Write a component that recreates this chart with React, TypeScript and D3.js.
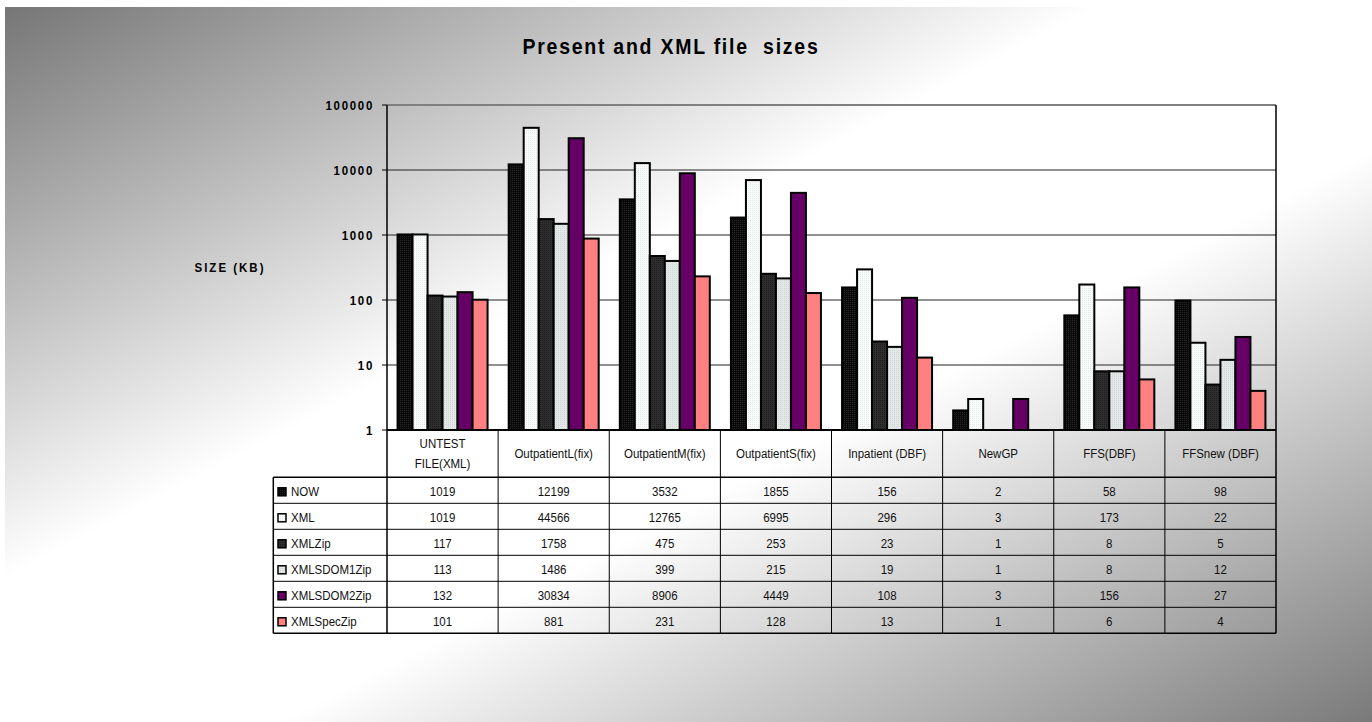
import React from "react";
import * as d3 from "d3";

const categories = ["UNTEST FILE(XML)", "OutpatientL(fix)", "OutpatientM(fix)", "OutpatientS(fix)", "Inpatient (DBF)", "NewGP", "FFS(DBF)", "FFSnew (DBF)"];
const categoryLines = [["UNTEST", "FILE(XML)"], ["OutpatientL(fix)"], ["OutpatientM(fix)"], ["OutpatientS(fix)"], ["Inpatient (DBF)"], ["NewGP"], ["FFS(DBF)"], ["FFSnew (DBF)"]];
const seriesNames = ["NOW", "XML", "XMLZip", "XMLSDOM1Zip", "XMLSDOM2Zip", "XMLSpecZip"];
const NOW = [1019, 12199, 3532, 1855, 156, 2, 58, 98];
const XML = [1019, 44566, 12765, 6995, 296, 3, 173, 22];
const XMLZip = [117, 1758, 475, 253, 23, 1, 8, 5];
const XMLSDOM1Zip = [113, 1486, 399, 215, 19, 1, 8, 12];
const XMLSDOM2Zip = [132, 30834, 8906, 4449, 108, 3, 156, 27];
const XMLSpecZip = [101, 881, 231, 128, 13, 1, 6, 4];
const seriesValues = [NOW, XML, XMLZip, XMLSDOM1Zip, XMLSDOM2Zip, XMLSpecZip];
const yTicks = [1, 10, 100, 1000, 10000, 100000];
const title = "Present and XML file  sizes";
const yTitle = "SIZE (KB)";

const FONT = "'Liberation Sans', Arial, sans-serif";
const SY = 1.15;

function T(props: any) {
  const { x, y, children, ...rest } = props;
  return (
    <text transform={`translate(${x},${y}) scale(1,${SY})`} x={0} y={0} style={{ whiteSpace: "pre" }} {...rest}>{children}</text>
  );
}

export default function App() {
  const W = 1372, H = 722;
  const left = 387, right = 1276, top = 105, bottom = 430;
  const y = d3.scaleLog().domain([1, 100000]).range([bottom, top]);
  const x = d3.scaleBand<string>().domain(categories).range([left, right]).paddingInner(0).paddingOuter(0);
  const groupW = 90;
  const x1 = d3.scaleBand<string>().domain(seriesNames).range([0, groupW]);
  const offset = (x.bandwidth() - groupW) / 2;
  const fills = ["url(#pNow)", "url(#pXml)", "url(#pZip)", "url(#pSdom1)", "#660066", "#ff8080"];

  const headerBottom = 477.3;
  const rowH = 26;
  const tableLeft = 273.3;
  const tableBottom = headerBottom + rowH * seriesNames.length;

  return (
    <svg width={W} height={H} style={{ position: "absolute", left: 0, top: 0, display: "block" }} fontFamily={FONT}>
      <defs>
        <linearGradient id="bg" x1="0" y1="0" x2="1" y2="1">
          <stop offset="0" stopColor="#767676" />
          <stop offset="0.4" stopColor="#ffffff" />
          <stop offset="0.6" stopColor="#ffffff" />
          <stop offset="1" stopColor="#7a7a7a" />
        </linearGradient>
        <pattern id="pNow" width="2" height="2" patternUnits="userSpaceOnUse">
          <rect width="2" height="2" fill="#0a0a0a" />
          <rect width="1" height="1" fill="#262626" />
        </pattern>
        <pattern id="pXml" width="2" height="2" patternUnits="userSpaceOnUse">
          <rect width="2" height="2" fill="#fbfdfd" />
          <rect width="1" height="1" fill="#e2e8e8" />
        </pattern>
        <pattern id="pZip" width="2" height="2" patternUnits="userSpaceOnUse">
          <rect width="2" height="2" fill="#2e2e2e" />
          <rect width="1" height="1" fill="#1c1c1c" />
        </pattern>
        <pattern id="pSdom1" width="2" height="2" patternUnits="userSpaceOnUse">
          <rect width="2" height="2" fill="#e4e8e8" />
          <rect width="1" height="1" fill="#cfd4d4" />
        </pattern>
      </defs>
      <rect x={0} y={0} width={W} height={H} fill="#ffffff" />
      <rect x={5} y={7} width={W - 5} height={H - 7} fill="url(#bg)" />

      {/* title */}
      <T x={671} y={54} textAnchor="middle" fontSize={19.5} fontWeight="bold" letterSpacing={1.75} fill="#000">{title}</T>

      {/* y axis title */}
      <T x={230} y={272} textAnchor="middle" fontSize={11.5} fontWeight="bold" letterSpacing={2} fill="#000">{yTitle}</T>

      {/* gridlines */}
      {yTicks.map((t) => (
        <line key={"g" + t} x1={left} x2={right} y1={y(t)} y2={y(t)} stroke={t === 100000 ? "#808080" : "#222"} strokeWidth={t === 100000 ? 2 : 1} />
      ))}
      {/* ticks and labels */}
      {yTicks.map((t) => (
        <g key={"t" + t}>
          <line x1={left - 5} x2={left} y1={y(t)} y2={y(t)} stroke="#000" strokeWidth={1} />
          <T x={374} y={y(t) + 4.5} textAnchor="end" fontSize={11.5} fontWeight="bold" letterSpacing={1.7} fill="#000">{d3.format("d")(t)}</T>
        </g>
      ))}

      {/* bars */}
      {categories.map((c, ci) => (
        <g key={c}>
          {seriesNames.map((s, si) => {
            const v = seriesValues[si][ci];
            const bx = (x(c) as number) + offset + (x1(s) as number);
            const by = y(v);
            const h = bottom - by;
            if (h <= 0) return null;
            return <rect key={s} x={bx} y={by} width={x1.bandwidth()} height={h} fill={fills[si]} stroke="#000" strokeWidth={2} />;
          })}
        </g>
      ))}

      {/* plot frame */}
      <line x1={right} x2={right} y1={top} y2={tableBottom} stroke="#000" strokeWidth={1.5} />
      <line x1={left} x2={left} y1={top} y2={tableBottom} stroke="#000" strokeWidth={1.5} />
      <line x1={left} x2={right} y1={bottom} y2={bottom} stroke="#000" strokeWidth={2} />

      {/* table: category dividers */}
      {categories.slice(1).map((c) => (
        <line key={"v" + c} x1={x(c) as number} x2={x(c) as number} y1={bottom} y2={tableBottom} stroke="#000" strokeWidth={1} />
      ))}
      {/* header labels */}
      {categoryLines.map((lines, ci) => {
        const cx = (x(categories[ci]) as number) + x.bandwidth() / 2;
        const centerY = 453;
        const lh = 20;
        return (
          <g key={"h" + ci}>
            {lines.map((ln, li) => (
              <T key={li} x={cx} y={centerY + (li - (lines.length - 1) / 2) * lh + 4.5} textAnchor="middle" fontSize={11.5} fill="#111">{ln}</T>
            ))}
          </g>
        );
      })}
      {/* table frame */}
      <line x1={tableLeft} x2={tableLeft} y1={headerBottom} y2={tableBottom} stroke="#000" strokeWidth={1.5} />
      <line x1={tableLeft} x2={right} y1={headerBottom} y2={headerBottom} stroke="#000" strokeWidth={1.5} />
      {seriesNames.map((s, si) => (
        <line key={"r" + s} x1={tableLeft} x2={right} y1={headerBottom + rowH * (si + 1)} y2={headerBottom + rowH * (si + 1)} stroke="#000" strokeWidth={si === seriesNames.length - 1 ? 1.5 : 1} />
      ))}
      {/* rows */}
      {seriesNames.map((s, si) => {
        const cy = headerBottom + rowH * si + rowH / 2 + 1.5;
        return (
          <g key={"row" + s}>
            <rect x={278} y={cy - 4} width={8} height={8} fill={fills[si]} stroke="#000" strokeWidth={1.5} />
            <T x={291} y={cy + 4.5} fontSize={11.5} fill="#111">{s}</T>
            {categories.map((c, ci) => (
              <T key={c} x={(x(c) as number) + x.bandwidth() / 2} y={cy + 4.5} textAnchor="middle" fontSize={11.5} fill="#111">{seriesValues[si][ci]}</T>
            ))}
          </g>
        );
      })}
    </svg>
  );
}
